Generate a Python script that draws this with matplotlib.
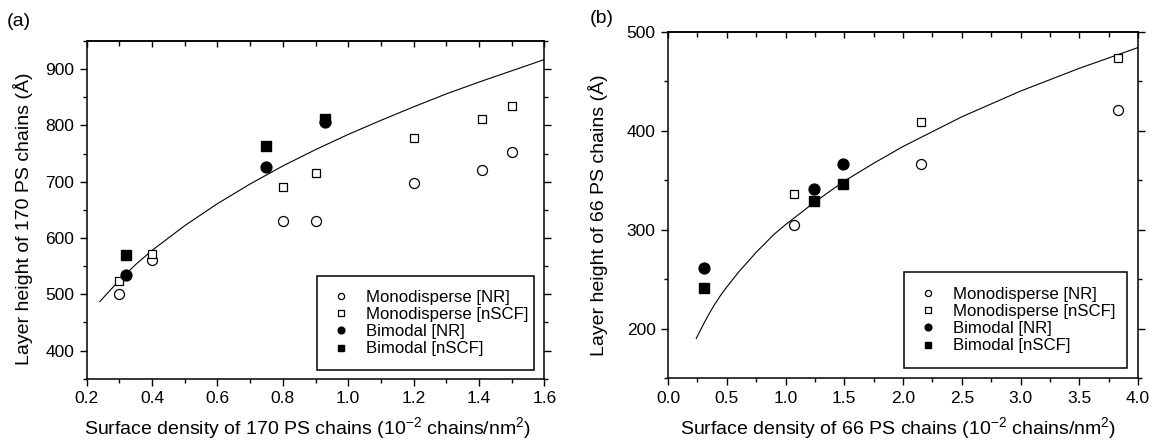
import matplotlib
matplotlib.use("Agg")
import matplotlib.pyplot as plt
from matplotlib.ticker import MultipleLocator
from matplotlib.patches import Rectangle

plt.rcParams['font.family'] = ['Liberation Sans', 'DejaVu Sans']
plt.rcParams['mathtext.fontset'] = 'custom'
plt.rcParams['mathtext.rm'] = 'Liberation Sans'

# ---------------- Panel (a): 170 PS chains ----------------
a_mono_nr_x = [0.30, 0.40, 0.80, 0.90, 1.20, 1.41, 1.50]
a_mono_nr_y = [501, 561, 631, 631, 697, 721, 752]
a_mono_scf_x = [0.30, 0.40, 0.80, 0.90, 1.20, 1.41, 1.50]
a_mono_scf_y = [523, 571, 691, 715, 778, 811, 835]
a_bi_nr_x = [0.32, 0.75, 0.93]
a_bi_nr_y = [535, 726, 806]
a_bi_scf_x = [0.32, 0.75, 0.93]
a_bi_scf_y = [570, 763, 812]
a_fit_x = [0.24, 0.27, 0.30, 0.35, 0.40, 0.45, 0.50, 0.60, 0.70, 0.80, 0.90, 1.00,
           1.10, 1.20, 1.30, 1.40, 1.50, 1.60]
a_fit_y = [487, 506, 525, 553, 578, 600, 622, 661, 696, 728, 757, 784,
           809, 833, 856, 877, 897, 917]

# ---------------- Panel (b): 66 PS chains ----------------
b_mono_nr_x = [1.07, 2.15, 3.83]
b_mono_nr_y = [305, 366, 421]
b_mono_scf_x = [1.07, 2.15, 3.83]
b_mono_scf_y = [336, 409, 473]
b_bi_nr_x = [0.31, 1.24, 1.49]
b_bi_nr_y = [261, 341, 366]
b_bi_scf_x = [0.31, 1.24, 1.49]
b_bi_scf_y = [241, 329, 346]
b_fit_x = [0.24, 0.27, 0.30, 0.35, 0.40, 0.45, 0.50, 0.60, 0.75, 0.90, 1.00, 1.25,
           1.50, 1.75, 2.00, 2.50, 3.00, 3.50, 4.00]
b_fit_y = [190, 197, 204, 215, 225, 234, 242, 257, 277, 295, 305, 328,
           349, 367, 384, 414, 440, 463, 484]

legend_labels = ['Monodisperse [NR]', 'Monodisperse [nSCF]', 'Bimodal [NR]', 'Bimodal [nSCF]']

FS_TICK = 12.5
FS_LAB = 14
FS_LEG = 12.1

fig = plt.figure(figsize=(11.5, 4.4), dpi=100)
axa = fig.add_axes([0.0754, 0.1393, 0.3979, 0.7675])
axb = fig.add_axes([0.5809, 0.1409, 0.4087, 0.7870])


def draw(ax, mnx, mny, msx, msy, bnx, bny, bsx, bsy, fx, fy):
    ax.plot(fx, fy, color='black', lw=0.8, zorder=1)
    h1, = ax.plot(mnx, mny, 'o', ms=7.2, mfc='white', mec='black', mew=0.9, ls='none', zorder=3)
    h2, = ax.plot(msx, msy, 's', ms=6.4, mfc='white', mec='black', mew=0.9, ls='none', zorder=3)
    h3, = ax.plot(bnx, bny, 'o', ms=7.8, mfc='black', mec='black', ls='none', zorder=4)
    h4, = ax.plot(bsx, bsy, 's', ms=6.6, mfc='black', mec='black', ls='none', zorder=4)
    return [h1, h2, h3, h4]


def style(ax, xmaj, xmin):
    for s in ax.spines.values():
        s.set_linewidth(1.1)
    ax.tick_params(which='both', direction='out', labelsize=FS_TICK, width=1.0,
                   top=False, right=True, pad=4)
    ax.tick_params(which='major', length=5)
    ax.tick_params(which='minor', length=3)
    sec = ax.secondary_xaxis('top')
    sec.xaxis.set_major_locator(MultipleLocator(xmaj))
    sec.xaxis.set_minor_locator(MultipleLocator(xmin))
    sec.tick_params(which='both', direction='in', labeltop=False, width=1.0)
    sec.tick_params(which='major', length=4.5)
    sec.tick_params(which='minor', length=3.5)
    sec.spines['top'].set_linewidth(1.1)


ha = draw(axa, a_mono_nr_x, a_mono_nr_y, a_mono_scf_x, a_mono_scf_y,
          a_bi_nr_x, a_bi_nr_y, a_bi_scf_x, a_bi_scf_y, a_fit_x, a_fit_y)
hb = draw(axb, b_mono_nr_x, b_mono_nr_y, b_mono_scf_x, b_mono_scf_y,
          b_bi_nr_x, b_bi_nr_y, b_bi_scf_x, b_bi_scf_y, b_fit_x, b_fit_y)

axa.set_xlim(0.2, 1.6)
axa.set_ylim(350, 950)
axa.xaxis.set_major_locator(MultipleLocator(0.2))
axa.xaxis.set_minor_locator(MultipleLocator(0.1))
axa.set_yticks([400, 500, 600, 700, 800, 900])
axa.yaxis.set_minor_locator(MultipleLocator(50))

axb.set_xlim(0.0, 4.0)
axb.set_ylim(150, 500)
axb.xaxis.set_major_locator(MultipleLocator(0.5))
axb.xaxis.set_minor_locator(MultipleLocator(0.25))
axb.set_yticks([200, 300, 400, 500])
axb.yaxis.set_minor_locator(MultipleLocator(50))

style(axa, 0.2, 0.1)
style(axb, 0.5, 0.25)

axa.set_xlabel(r'Surface density of 170 PS chains (10$^{\mathregular{-2}}$ chains/nm$^{\mathregular{2}}$)',
               fontsize=FS_LAB, labelpad=6.5)
axa.set_ylabel('Layer height of 170 PS chains (Å)', fontsize=FS_LAB, labelpad=8.5)
axb.set_xlabel(r'Surface density of 66 PS chains (10$^{\mathregular{-2}}$ chains/nm$^{\mathregular{2}}$)',
               fontsize=FS_LAB, labelpad=7)
axb.set_ylabel('Layer height of 66 PS chains (Å)', fontsize=FS_LAB, labelpad=13)
axa.xaxis.label.set_x(0.4836)
axb.xaxis.label.set_x(0.489)
axa.yaxis.label.set_y(0.474)
axb.yaxis.label.set_y(0.471)

fig.text(0.006, 0.952, '(a)', fontsize=FS_LAB, ha='left', va='center')
fig.text(0.513, 0.958, '(b)', fontsize=FS_LAB, ha='left', va='center')

# legend boxes (axes fraction): x0, y0, x1, y1
for ax, hs, box, anchor_x in ((axa, ha, (0.503, 0.026, 0.9775, 0.304), 0.537),
                              (axb, hb, (0.502, 0.029, 0.977, 0.306), 0.535)):
    x0, y0, x1, y1 = box
    ax.add_patch(Rectangle((x0, y0), x1 - x0, y1 - y0, transform=ax.transAxes,
                           facecolor='white', edgecolor='black', lw=1.1, zorder=5))
    leg = ax.legend(hs, legend_labels, loc='center left',
                    bbox_to_anchor=(anchor_x, (y0 + y1) / 2), borderaxespad=0,
                    borderpad=0, fontsize=FS_LEG, frameon=False,
                    markerscale=0.62, handlelength=1.0, handletextpad=0.98,
                    labelspacing=0.135)
    leg.set_zorder(6)

fig.savefig('out.png', dpi=100)
